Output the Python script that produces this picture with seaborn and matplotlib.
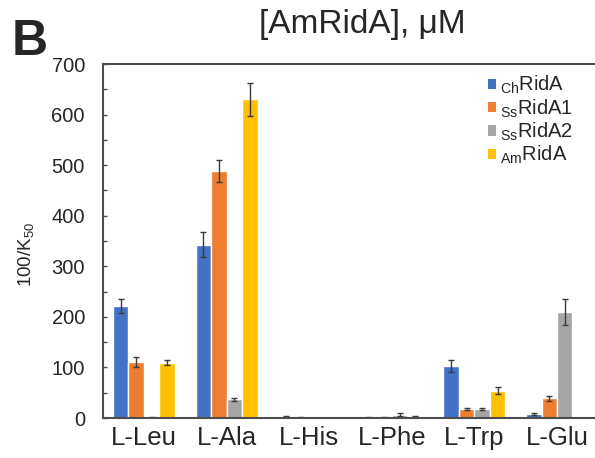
"""
Panel B: 100/K50 of each RidA homologue for the different amino acids.
"""
import matplotlib.pyplot as plt
import pandas as pd
import seaborn as sns
from matplotlib.patches import Patch
from matplotlib.ticker import MultipleLocator

# Amino acids on the x axis
amino_acids = ['L-Leu', 'L-Ala', 'L-His', 'L-Phe', 'L-Trp', 'L-Glu']

# Enzymes (hue)
enzymes = ['ChRidA', 'SsRidA1', 'SsRidA2', 'AmRidA']
enzyme_labels = [r'$_{\mathrm{Ch}}$RidA', r'$_{\mathrm{Ss}}$RidA1',
                 r'$_{\mathrm{Ss}}$RidA2', r'$_{\mathrm{Am}}$RidA']

# 100/K50 values, one list per enzyme (order = amino_acids)
ch_rida = [221, 343, 2, 1, 102, 7]
ss_rida1 = [110, 488, 1, 1, 17, 39]
ss_rida2 = [1, 37, 0, 6, 17, 209]
am_rida = [109, 630, 0, 2, 54, 0]

# Error bars (same order)
ch_err = [14, 24, 1, 0.5, 12, 2]
ss1_err = [10, 22, 0.5, 0.5, 2, 5]
ss2_err = [0.5, 3, 0, 3, 2, 26]
am_err = [5, 32, 0, 1, 7, 0]

colors = ['#4472C4', '#ED7D31', '#A5A5A5', '#FFC000']

values = [ch_rida, ss_rida1, ss_rida2, am_rida]
errors = [ch_err, ss1_err, ss2_err, am_err]

df = pd.concat(
    [pd.DataFrame({'amino_acid': amino_acids, 'enzyme': e, 'value': v})
     for e, v in zip(enzymes, values)],
    ignore_index=True,
)

sns.set_style('white')
plt.rcParams['font.family'] = ['Liberation Sans', 'DejaVu Sans']
plt.rcParams['mathtext.fontset'] = 'custom'
plt.rcParams['mathtext.rm'] = 'Liberation Sans'
plt.rcParams['mathtext.it'] = 'Liberation Sans:italic'

fig = plt.figure(figsize=(5.95, 4.58), dpi=100)
ax = fig.add_axes([103 / 595, 1 - 418 / 458, 1 - 103 / 595, (418 - 64) / 458])

sns.barplot(
    data=df, x='amino_acid', y='value', hue='enzyme',
    order=amino_acids, hue_order=enzymes, palette=colors,
    width=0.75, saturation=1, errorbar=None, legend=False, ax=ax,
)

# add the error bars on top of each bar
for cont, err in zip(ax.containers, errors):
    xs = [b.get_x() + b.get_width() / 2 for b in cont]
    hs = [b.get_height() for b in cont]
    ax.errorbar(xs, hs, yerr=err, fmt='none', ecolor='#3a3a3a',
                elinewidth=1, capsize=2, capthick=1)

ax.set_xlim(-0.496, 5.46)
ax.set_ylim(0, 700)
ax.yaxis.set_major_locator(MultipleLocator(100))
ax.yaxis.set_minor_locator(MultipleLocator(50))
ax.tick_params(axis='y', which='both', direction='in', length=3, width=1,
               color='#4d4d4d', labelsize=14.5, pad=13, left=True)
ax.tick_params(axis='x', length=0, labelsize=18.5, pad=6)
ax.set_xlabel('')
ax.set_ylabel('')

for side in ('left', 'bottom', 'top'):
    ax.spines[side].set_color('#4d4d4d')
    ax.spines[side].set_linewidth(1.5)
ax.spines['right'].set_visible(False)

handles = [Patch(facecolor=c, edgecolor='none') for c in colors]
ax.legend(handles, enzyme_labels, loc='upper left',
          bbox_to_anchor=((488 - 103) / 492, 1 - (74 - 64) / 354),
          frameon=False, fontsize=14.5, handlelength=0.42, handleheight=0.42,
          handletextpad=0.2, labelspacing=0.05, borderaxespad=0, borderpad=0)

fig.text(26 / 595, 1 - 254 / 458, r'100/K$_{50}$', rotation=90,
         ha='center', va='center', fontsize=13.5)
fig.text(362 / 595, 1 - 25 / 458, '[AmRidA], μM', ha='center', va='center',
         fontsize=24)
fig.text(12 / 595, 1 - 55 / 458, 'B', ha='left', va='baseline',
         fontsize=36, fontweight='bold')

fig.savefig('out.png', dpi=100)
